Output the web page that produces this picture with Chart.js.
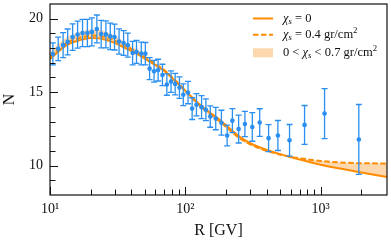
<!DOCTYPE html>
<html>
<head>
<meta charset="utf-8">
<script src="https://cdn.jsdelivr.net/npm/chart.js@4/dist/chart.umd.min.js"></script>
<style>
  html, body { margin: 0; padding: 0; background: #fff; }
  #wrap { width: 391px; height: 244px; }
</style>
</head>
<body>
<div id="wrap"><canvas id="chart" width="391" height="244"></canvas></div>
<script>
// Measured points (rigidity in GV, value, error)
const dataR = [10.5, 11.5, 12.5, 13.5, 14.7, 16.0, 17.4, 18.9, 20.4, 22.2,
  23.9, 25.9, 27.9, 30.0, 32.4, 35.0, 37.6, 40.8, 43.6, 47.3,
  50.7, 54.5, 58.8, 63.0, 67.8, 73.1, 78.5, 84.2, 90.6, 96.7,
  104.8, 112.4, 121, 132, 142, 153, 168, 185, 204, 223,
  248, 276, 313, 355, 413, 484, 590, 762, 1071, 1919];
const dataN = [17.6, 17.95, 18.2, 18.42, 18.75, 18.92, 19.03, 19.03, 19.1, 19.3,
  18.95, 18.93, 18.8, 18.75, 18.45, 18.35, 18.2, 17.66, 17.74, 17.63,
  17.62, 16.6, 16.42, 16.5, 16.17, 15.52, 15.72, 15.55, 15.31, 14.82,
  14.97, 13.88, 14.14, 13.98, 13.8, 13.34, 13.2, 12.92, 12.05, 13.06,
  12.49, 12.83, 12.63, 12.93, 11.87, 12.05, 11.72, 12.77, 13.54, 11.78];
const dataErr = [0.75, 0.8, 0.85, 0.88, 0.9, 0.92, 0.93, 0.93, 0.95, 0.95,
  0.93, 0.92, 0.9, 0.88, 0.86, 0.84, 0.82, 0.8, 0.78, 0.77,
  0.76, 0.75, 0.74, 0.74, 0.73, 0.73, 0.73, 0.73, 0.73, 0.74,
  0.76, 0.74, 0.76, 0.78, 0.74, 0.73, 0.76, 0.85, 0.7, 0.82,
  0.95, 0.86, 0.97, 0.94, 0.92, 1.02, 1.08, 1.32, 1.7, 2.38];

// Model curves
const modelR = [10, 11, 12.5, 14, 16, 18, 20, 23, 26, 30,
  35, 40, 46, 52, 60, 70, 80, 90, 100, 115,
  130, 150, 175, 200, 250, 300, 350, 450, 600, 800,
  1000, 1400, 2000, 3100];
const curveZero = [17.25, 17.6, 18.03, 18.3, 18.5, 18.62, 18.68, 18.66, 18.55, 18.35,
  18.05, 17.8, 17.5, 17.2, 16.85, 16.45, 15.95, 15.5, 15.1, 14.55,
  14.1, 13.65, 13.2, 12.75, 12.0, 11.55, 11.28, 10.92, 10.58, 10.28,
  10.06, 9.8, 9.53, 9.22];
const curveMid = [17.38, 17.73, 18.17, 18.45, 18.66, 18.79, 18.85, 18.83, 18.72, 18.52,
  18.21, 17.94, 17.62, 17.3, 16.93, 16.5, 16.0, 15.55, 15.08, 14.5,
  14.02, 13.55, 13.09, 12.64, 11.9, 11.47, 11.2, 10.87, 10.6, 10.43,
  10.32, 10.22, 10.16, 10.15];
const curveHigh = [17.65, 18.1, 18.55, 18.85, 19.05, 19.2, 19.27, 19.25, 19.1, 18.85,
  18.45, 18.1, 17.75, 17.35, 16.95, 16.48, 15.98, 15.52, 15.05, 14.45,
  13.95, 13.45, 12.98, 12.52, 11.8, 11.38, 11.12, 10.82, 10.62, 10.43,
  10.32, 10.22, 10.16, 10.15];

// Axis ticks
const xMajor = [10, 100, 1000];
const xMinor = [20, 30, 40, 50, 60, 70, 80, 90, 200, 300, 400, 500, 600, 700, 800, 900, 2000];
const yMajor = [10, 15, 20];
const yMinor = [9, 11, 12, 13, 14, 16, 17, 18, 19];

const BLUE = '#2a8ff0';
const ORANGE = '#ff8c00';
const BAND = '#fdd7ad';
const SERIF = '"Liberation Serif", "DejaVu Serif", serif';
const SUP = { 1: '\u00b9', 2: '\u00b2', 3: '\u00b3' };

const pts = (xs, ys) => xs.map((x, i) => ({ x: x, y: ys[i] }));

function drawRich(ctx, parts, x, y, size) {
  parts.forEach(p => {
    const s = (p.sub || p.sup) ? size * 0.7 : size;
    ctx.font = (p.it ? 'italic ' : '') + s + 'px ' + SERIF;
    const dy = p.sub ? size * 0.25 : (p.sup ? -size * 0.36 : 0);
    ctx.fillText(p.t, x, y + dy);
    x += ctx.measureText(p.t).width;
  });
}

const extras = {
  id: 'extras',
  afterDatasetsDraw(chart) {
    const { ctx, scales: { x, y } } = chart;
    ctx.save();
    ctx.strokeStyle = BLUE;
    ctx.lineWidth = 1.3;
    dataR.forEach((r, i) => {
      const px = x.getPixelForValue(r);
      const top = y.getPixelForValue(dataN[i] + dataErr[i]);
      const bot = y.getPixelForValue(dataN[i] - dataErr[i]);
      ctx.beginPath();
      ctx.moveTo(px, top); ctx.lineTo(px, bot);
      ctx.moveTo(px - 3, top); ctx.lineTo(px + 3, top);
      ctx.moveTo(px - 3, bot); ctx.lineTo(px + 3, bot);
      ctx.stroke();
    });
    ctx.restore();
  },
  afterDraw(chart) {
    const { ctx, chartArea: a, scales: { x, y } } = chart;
    ctx.save();
    // frame
    ctx.strokeStyle = '#111';
    ctx.lineWidth = 1.2;
    ctx.strokeRect(a.left, a.top, a.right - a.left, a.bottom - a.top);
    // inward ticks
    ctx.lineWidth = 1;
    ctx.beginPath();
    xMajor.forEach(v => { const p = Math.round(x.getPixelForValue(v)) + 0.5; ctx.moveTo(p, a.bottom); ctx.lineTo(p, a.bottom - 8); });
    xMinor.forEach(v => { const p = Math.round(x.getPixelForValue(v)) + 0.5; ctx.moveTo(p, a.bottom); ctx.lineTo(p, a.bottom - 5.5); });
    yMajor.forEach(v => { const p = Math.round(y.getPixelForValue(v)) + 0.5; ctx.moveTo(a.left, p); ctx.lineTo(a.left + 8, p); });
    yMinor.forEach(v => { const p = Math.round(y.getPixelForValue(v)) + 0.5; ctx.moveTo(a.left, p); ctx.lineTo(a.left + 5.5, p); });
    ctx.stroke();

    // legend
    const lx0 = 253, lx1 = 273, tx = 283;
    const rows = [18.5, 34.8, 52.8];
    ctx.strokeStyle = ORANGE;
    ctx.lineWidth = 2;
    ctx.beginPath(); ctx.moveTo(lx0, rows[0]); ctx.lineTo(lx1, rows[0]); ctx.stroke();
    ctx.setLineDash([5.5, 2.5]);
    ctx.beginPath(); ctx.moveTo(lx0, rows[1]); ctx.lineTo(lx1, rows[1]); ctx.stroke();
    ctx.setLineDash([]);
    ctx.fillStyle = BAND;
    ctx.fillRect(lx0, rows[2] - 4.5, lx1 - lx0, 9);

    ctx.fillStyle = '#111';
    ctx.textBaseline = 'middle';
    ctx.textAlign = 'left';
    const fs = 12.5;
    drawRich(ctx, [{ t: '\u03c7', it: 1 }, { t: 's', it: 1, sub: 1 }, { t: ' = 0' }], tx, rows[0], fs);
    drawRich(ctx, [{ t: '\u03c7', it: 1 }, { t: 's', it: 1, sub: 1 }, { t: ' = 0.4 gr/cm' }, { t: '2', sup: 1 }], tx, rows[1], fs);
    drawRich(ctx, [{ t: '0 < ' }, { t: '\u03c7', it: 1 }, { t: 's', it: 1, sub: 1 }, { t: ' < 0.7 gr/cm' }, { t: '2', sup: 1 }], tx, rows[2], fs);
    ctx.restore();
  }
};

const ctx = document.getElementById('chart').getContext('2d');
new Chart(ctx, {
  type: 'scatter',
  data: {
    datasets: [
      {
        label: 'data',
        data: pts(dataR, dataN),
        pointRadius: 2.3,
        pointBackgroundColor: BLUE,
        pointBorderWidth: 0,
        showLine: false,
        order: 0
      },
      {
        label: '0 < chi_s < 0.7',
        data: pts(modelR, curveHigh),
        showLine: true,
        pointRadius: 0,
        borderWidth: 0,
        borderColor: 'rgba(0,0,0,0)',
        backgroundColor: BAND,
        fill: 2,
        cubicInterpolationMode: 'monotone',
        order: 3
      },
      {
        label: 'chi_s = 0',
        data: pts(modelR, curveZero),
        showLine: true,
        pointRadius: 0,
        borderWidth: 2,
        borderColor: ORANGE,
        fill: false,
        cubicInterpolationMode: 'monotone',
        order: 1
      },
      {
        label: 'chi_s = 0.4',
        data: pts(modelR, curveMid),
        showLine: true,
        pointRadius: 0,
        borderWidth: 2,
        borderColor: ORANGE,
        borderDash: [5.5, 2.5],
        fill: false,
        cubicInterpolationMode: 'monotone',
        order: 2
      }
    ]
  },
  options: {
    responsive: false,
    animation: false,
    devicePixelRatio: 1,
    layout: { padding: { top: 4, right: 3.5, left: 0, bottom: 0 } },
    plugins: {
      legend: { display: false },
      tooltip: { enabled: false }
    },
    scales: {
      x: {
        type: 'logarithmic',
        min: 10,
        max: 3100,
        grid: { display: false, drawTicks: false, tickLength: 0 },
        border: { display: false },
        afterBuildTicks: scale => { scale.ticks = xMajor.map(v => ({ value: v })); },
        afterFit: scale => {
          scale.height = 49;
          scale.paddingLeft = 0;
          scale.paddingRight = 0;
        },
        ticks: {
          color: '#111',
          padding: 6,
          maxRotation: 0,
          font: { family: SERIF, size: 14 },
          callback: v => '10' + SUP[Math.round(Math.log10(v))]
        },
        title: {
          display: true,
          text: 'R [GV]',
          color: '#111',
          font: { family: SERIF, size: 16 },
          padding: { top: 0, bottom: 4 }
        }
      },
      y: {
        min: 8,
        max: 21,
        grid: { display: false, drawTicks: false, tickLength: 0 },
        border: { display: false },
        afterBuildTicks: scale => { scale.ticks = yMajor.map(v => ({ value: v })); },
        afterFit: scale => {
          scale.width = 50;
          scale.paddingTop = 0;
          scale.paddingBottom = 0;
        },
        ticks: {
          color: '#111',
          padding: 7,
          font: { family: SERIF, size: 14 }
        },
        title: {
          display: true,
          text: 'N',
          color: '#111',
          font: { family: SERIF, size: 16 },
          padding: { top: 0, bottom: 0 }
        }
      }
    }
  },
  plugins: [extras]
});
</script>
</body>
</html>
